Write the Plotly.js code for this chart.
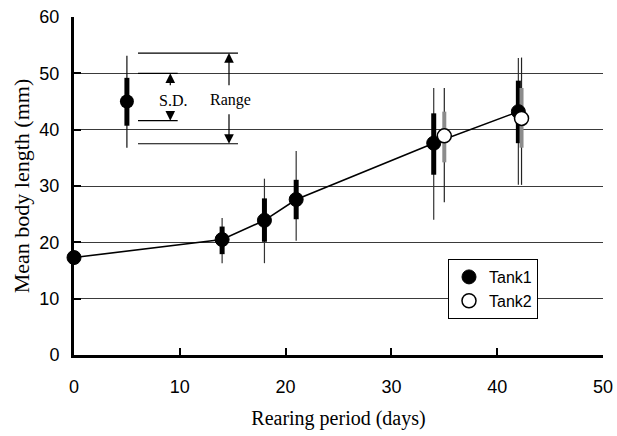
<!DOCTYPE html>
<html>
<head>
<meta charset="utf-8">
<script src="https://cdn.plot.ly/plotly-3.0.1.min.js"></script>
<style>html,body{margin:0;padding:0;background:#fff;}#chart{width:617px;height:436px;}</style>
</head>
<body>
<div id="chart"></div>
<script>
// Tank1
const days1 = [0, 14, 18, 21, 34, 42];
const mean1 = [17.3, 20.5, 23.9, 27.6, 37.6, 43.2];
const sdHi1 = [null, 22.8, 27.8, 31.1, 42.9, 48.7];
const sdLo1 = [null, 17.9, 20.1, 24.1, 32.0, 37.6];
const rngHi1 = [null, 24.3, 31.3, 36.2, 47.4, 52.7];
const rngLo1 = [null, 16.3, 16.3, 20.3, 24.0, 30.2];
// Tank2
const days2 = [35, 42.3];
const mean2 = [38.9, 42.0];
const sdHi2 = [43.2, 47.4];
const sdLo2 = [34.2, 36.8];
const rngHi2 = [47.4, 52.8];
const rngLo2 = [27.1, 30.2];
// Key example
const keyDay = [5];
const keyMean = [45];
const keySdHi = [49.2];
const keySdLo = [40.7];
const keyRngHi = [53.1];
const keyRngLo = [36.8];

function segs(xs, lo, hi) {
  const x = [], y = [];
  for (let i = 0; i < xs.length; i++) {
    if (lo[i] == null || hi[i] == null) continue;
    x.push(xs[i], xs[i], null);
    y.push(lo[i], hi[i], null);
  }
  return {x, y};
}
function segTrace(s, color, width, dash) {
  return {x: s.x, y: s.y, type: 'scatter', mode: 'lines', showlegend: false, hoverinfo: 'skip',
    line: {color: color, width: width, dash: dash || 'solid'}, cliponaxis: false};
}

const traces = [
  segTrace(segs(days1, rngLo1, rngHi1), '#333', 1.2),
  segTrace(segs(days2, rngLo2, rngHi2), '#222', 1.2),
  segTrace(segs(keyDay, keyRngLo, keyRngHi), '#111', 1.2),
  segTrace(segs(days1, sdLo1, sdHi1), '#000', 5),
  segTrace(segs(days2, sdLo2, sdHi2), '#8c8c8c', 4),
  segTrace(segs(keyDay, keySdLo, keySdHi), '#000', 5),
  {x: days1, y: mean1, type: 'scatter', mode: 'lines', showlegend: false, cliponaxis: false,
    line: {color: '#000', width: 1.6}},
  {x: days1, y: mean1, type: 'scatter', mode: 'markers', name: 'Tank1', cliponaxis: false,
    marker: {symbol: 'circle', size: 14, color: '#000', line: {color: '#000', width: 1}}},
  {x: days2, y: mean2, type: 'scatter', mode: 'markers', name: 'Tank2', cliponaxis: false,
    marker: {symbol: 'circle', size: 14, color: '#fff', line: {color: '#000', width: 1.5}}},
  {x: keyDay, y: keyMean, type: 'scatter', mode: 'markers', showlegend: false, cliponaxis: false,
    marker: {symbol: 'circle', size: 14, color: '#000'}}
];

const serif = 'Liberation Serif, Times New Roman, serif';
const sans = 'Liberation Sans, Arial, sans-serif';

const arrowBase = {axref: 'x', ayref: 'y', xref: 'x', yref: 'y', text: '', showarrow: true,
  arrowhead: 2, arrowsize: 1.6, arrowwidth: 1.2, standoff: 0, arrowcolor: '#000'};

const layout = {
  width: 617, height: 436,
  margin: {l: 74, r: 14, t: 17, b: 81},
  paper_bgcolor: '#fff', plot_bgcolor: '#fff',
  showlegend: true,
  legend: {x: 0.707, y: 0.284, xanchor: 'left', yanchor: 'top', bordercolor: '#000', borderwidth: 1,
    bgcolor: '#fff', font: {family: sans, size: 16, color: '#000'}, itemwidth: 30, entrywidth: 70,
    tracegroupgap: 0},
  xaxis: {range: [0, 50], dtick: 10, tick0: 0, showgrid: false, zeroline: false,
    showline: true, linecolor: '#000', linewidth: 3,
    ticks: 'inside', ticklen: 7, tickwidth: 2, tickcolor: '#000',
    ticklabelstandoff: 13,
    tickfont: {family: sans, size: 18, color: '#000'},
    title: {text: 'Rearing period (days)', font: {family: serif, size: 20, color: '#000'}, standoff: 16}},
  yaxis: {range: [0, 60], dtick: 10, tick0: 0, showgrid: true, gridcolor: '#3a3a3a', gridwidth: 1, zeroline: false,
    showline: true, linecolor: '#000', linewidth: 3,
    ticks: 'inside', ticklen: 7, tickwidth: 2, tickcolor: '#000',
    ticklabelstandoff: 8,
    tickfont: {family: sans, size: 18, color: '#000'},
    title: {text: 'Mean body length (mm)', font: {family: serif, size: 22, color: '#000'}, standoff: 4}},
  shapes: [
    {type: 'line', xref: 'x', yref: 'y', x0: 6.05, x1: 15.5, y0: 53.6, y1: 53.6, line: {color: '#000', width: 1.2}},
    {type: 'line', xref: 'x', yref: 'y', x0: 6.05, x1: 15.5, y0: 37.5, y1: 37.5, line: {color: '#000', width: 1.2}},
    {type: 'line', xref: 'x', yref: 'y', x0: 6.05, x1: 9.8, y0: 41.6, y1: 41.6, line: {color: '#000', width: 1.2}},
    {type: 'line', xref: 'x', yref: 'y', x0: 6.05, x1: 9.8, y0: 50, y1: 50, line: {color: '#000', width: 1.2}}
  ],
  annotations: [
    Object.assign({x: 9.1, y: 50, ax: 9.1, ay: 47.6}, arrowBase),
    Object.assign({x: 9.1, y: 41.6, ax: 9.1, ay: 43.1}, arrowBase),
    Object.assign({x: 14.65, y: 53.6, ax: 14.65, ay: 47.6}, arrowBase),
    Object.assign({x: 14.65, y: 37.5, ax: 14.65, ay: 43}, arrowBase),
    {x: 9.35, y: 45.2, xref: 'x', yref: 'y', text: 'S.D.', showarrow: false, font: {family: serif, size: 16, color: '#000'}},
    {x: 14.8, y: 45.2, xref: 'x', yref: 'y', text: 'Range', showarrow: false, font: {family: serif, size: 16, color: '#000'}}
  ]
};

Plotly.newPlot('chart', traces, layout, {displayModeBar: false, staticPlot: true});
</script>
</body>
</html>
